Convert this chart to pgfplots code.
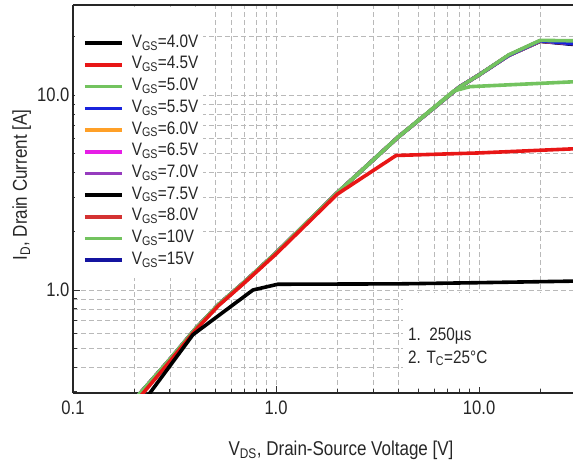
\documentclass[border=0pt]{standalone}
\usepackage{fontspec}
\setmainfont{Liberation Sans}[FakeStretch=0.85]
\usepackage{pgfplots}
\pgfplotsset{compat=1.18}

\definecolor{cgreen}{RGB}{115,195,95}
\definecolor{cred}{RGB}{232,22,22}
\definecolor{cblue}{RGB}{25,35,220}
\definecolor{corange}{RGB}{255,160,40}
\definecolor{cmagenta}{RGB}{230,30,230}
\definecolor{cpurple}{RGB}{150,60,190}
\definecolor{cdred}{RGB}{212,50,50}
\definecolor{cnavy}{RGB}{20,20,160}

\begin{document}
\begin{tikzpicture}
\begin{axis}[
    name=ax,
    scale only axis,
    width=500pt, height=388pt,
    xmode=log, ymode=log,
    xmin=0.1, xmax=29, ymin=0.296, ymax=29,
    axis lines*=left,
    axis line style={-, line width=1.3pt, black!85},
    xtick={0.1,1,10}, xticklabels={0.1,1.0,10.0},
    ytick={1,10}, yticklabels={1.0,10.0},
    minor xtick={0.2,0.3,0.4,0.5,0.6,0.7,0.8,0.9,2,3,4,5,6,7,8,9,20},
    minor ytick={0.3,0.4,0.5,0.6,0.7,0.8,0.9,2,3,4,5,6,7,8,9,20},
    major tick length=7pt, minor tick length=4pt,
    tick style={black!80, line width=0.8pt},
    /pgf/number format/assume math mode=true,
    tick label style={font=\fontsize{19.5}{22}\selectfont, text=black!85},
    xticklabel style={yshift=-4pt},
    grid=both,
    grid style={gray!55, line width=0.7pt, dash pattern=on 5pt off 3pt},
    minor grid style={gray!55, line width=0.7pt, dash pattern=on 5pt off 3pt},
    xlabel={V\textsubscript{DS}, Drain-Source Voltage [V]},
    ylabel={I\textsubscript{D}, Drain Current [A]},
    label style={font=\fontsize{20}{24}\selectfont, text=black!85},
    xlabel style={at={(axis description cs:0.536,-0.160)}, anchor=base},
    ylabel style={at={(axis description cs:-0.092,0.536)}, anchor=base, rotate=0},
    legend cell align=left,
    legend style={at={(axis description cs:0,1)}, anchor=north west,
        draw=none, fill=none, inner xsep=10pt, inner ysep=30pt,
        row sep=5.7pt, column sep=8pt,
        font=\fontsize{18}{21}\selectfont,
        nodes={inner sep=0pt, text height=12pt, text depth=4pt, text=black!85}},
    legend image code/.code={\draw[#1] (0pt,0pt) -- (37pt,0pt);},
    every axis plot/.append style={line width=3.6pt, line join=round},
]
% white patches behind legend and note
\fill[white] (rel axis cs:0.004,0.296) rectangle (rel axis cs:0.26,0.995);
\fill[white] (rel axis cs:0.66,0.015) rectangle (rel axis cs:1,0.258);

% upper family, drawn underneath
\addplot[cnavy, forget plot] coordinates {(0.205,0.28) (0.3,0.44) (0.4,0.63) (0.52,0.84) (0.7,1.1) (1,1.55) (2,3.15) (4,6.1) (8,11) (10,12.7) (14,16) (20,18.9) (29,18.2)};
\addplot[black, forget plot] coordinates {(0.205,0.28) (0.3,0.44) (0.4,0.63) (0.52,0.84) (0.7,1.1) (1,1.55) (2,3.15) (4,6.1) (8,11) (10,12.7) (14,16) (20,18.9) (29,18.3)};
\addplot[cdred, forget plot] coordinates {(0.205,0.28) (0.3,0.44) (0.4,0.63) (0.52,0.84) (0.7,1.1) (1,1.55) (2,3.15) (4,6.1) (8,11) (10,12.7) (14,16) (20,18.9) (29,18.4)};
\addplot[cpurple, forget plot] coordinates {(0.205,0.28) (0.3,0.44) (0.4,0.63) (0.52,0.84) (0.7,1.1) (1,1.55) (2,3.15) (4,6.1) (8,11) (10,12.7) (14,16) (20,19) (29,18.4)};
\addplot[cmagenta, forget plot] coordinates {(0.205,0.28) (0.3,0.44) (0.4,0.63) (0.52,0.84) (0.7,1.1) (1,1.55) (2,3.15) (4,6.1) (8,11) (10,12.7) (14,16) (20,19) (29,18.5)};
\addplot[corange, forget plot] coordinates {(0.205,0.28) (0.3,0.44) (0.4,0.63) (0.52,0.84) (0.7,1.1) (1,1.55) (2,3.15) (4,6.1) (8,11) (10,12.7) (14,16) (20,19) (29,18.5)};
\addplot[cblue, forget plot] coordinates {(0.205,0.28) (0.3,0.44) (0.4,0.63) (0.52,0.84) (0.7,1.1) (1,1.55) (2,3.15) (4,6.1) (8,11) (10,12.7) (14,16) (20,19) (29,18.4)};
\addplot[cgreen, forget plot] coordinates {(0.205,0.28) (0.3,0.44) (0.4,0.63) (0.52,0.84) (0.7,1.1) (1,1.55) (2,3.15) (4,6.1) (8,11) (10,12.7) (14,16.1) (20,19.1) (29,19.0)};
% lower gate voltages
\addplot[cgreen, forget plot] coordinates {(0.205,0.28) (0.3,0.44) (0.4,0.63) (0.52,0.84) (0.7,1.1) (1,1.55) (2,3.15) (4,6.1) (7.5,10.5) (9,11.05) (29,11.7)};
\addplot[cred, forget plot] coordinates {(0.212,0.28) (0.3,0.43) (0.4,0.62) (0.52,0.83) (0.7,1.09) (1,1.53) (2,3.1) (3.9,4.9) (10,5.05) (29,5.3)};
\addplot[black, forget plot] coordinates {(0.23,0.28) (0.39,0.59) (0.77,1.0) (1.02,1.07) (4,1.075) (10,1.09) (29,1.11)};

\addlegendimage{black}      \addlegendentry{V\textsubscript{GS}=4.0V}
\addlegendimage{cred}       \addlegendentry{V\textsubscript{GS}=4.5V}
\addlegendimage{cgreen}     \addlegendentry{V\textsubscript{GS}=5.0V}
\addlegendimage{cblue}      \addlegendentry{V\textsubscript{GS}=5.5V}
\addlegendimage{corange}    \addlegendentry{V\textsubscript{GS}=6.0V}
\addlegendimage{cmagenta}   \addlegendentry{V\textsubscript{GS}=6.5V}
\addlegendimage{cpurple}    \addlegendentry{V\textsubscript{GS}=7.0V}
\addlegendimage{black}      \addlegendentry{V\textsubscript{GS}=7.5V}
\addlegendimage{cdred}      \addlegendentry{V\textsubscript{GS}=8.0V}
\addlegendimage{cgreen}     \addlegendentry{V\textsubscript{GS}=10V}
\addlegendimage{cnavy}      \addlegendentry{V\textsubscript{GS}=15V}

\node[anchor=base west, font=\fontsize{18}{21}\selectfont, text=black!85, inner sep=0pt] at (rel axis cs:0.67,0.1366) {1.\ \ 250µs};
\node[anchor=base west, font=\fontsize{18}{21}\selectfont, text=black!85, inner sep=0pt] at (rel axis cs:0.67,0.0773) {2. T\textsubscript{C}=25°C};
\end{axis}
\draw[line width=1.3pt, black!85] (ax.north west) -- (ax.north east);
\pgfresetboundingbox
\path[use as bounding box] ([shift={(-73pt,-73pt)}]ax.south west) rectangle ([yshift=5pt]ax.north east);
\end{tikzpicture}
\end{document}
